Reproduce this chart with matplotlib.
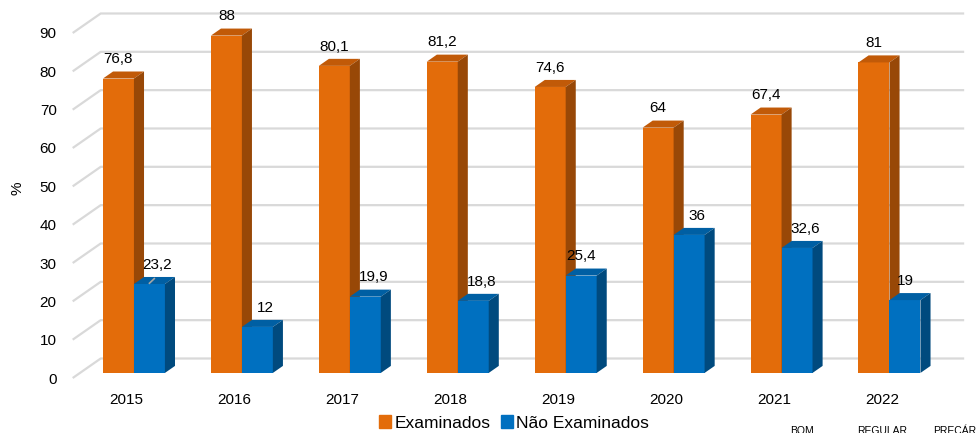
import matplotlib
matplotlib.use("Agg")
import matplotlib.pyplot as plt
from matplotlib.patches import Polygon, Patch

plt.rcParams['font.family'] = ['Liberation Sans', 'DejaVu Sans']

anos = ['2015', '2016', '2017', '2018', '2019', '2020', '2021', '2022']
examinados = [76.8, 88, 80.1, 81.2, 74.6, 64, 67.4, 81]
nao_examinados = [23.2, 12, 19.9, 18.8, 25.4, 36, 32.6, 19]
rotulos_ex = ['76,8', '88', '80,1', '81,2', '74,6', '64', '67,4', '81']
rotulos_nao = ['23,2', '12', '19,9', '18,8', '25,4', '36', '32,6', '19']

# colours: front, top, side
laranja = ('#E36C0A', '#C15A08', '#984807')
azul = ('#0070C0', '#005FA3', '#004A7E')
cor_grade = '#D9D9D9'

# oblique projection: one unit of depth moves this much in x / y
DX, DY = 0.2595, 5.09
D_FRENTE, D_BARRA = 0.26, 0.36
W = 0.287

fig = plt.figure(figsize=(9.77, 4.33), dpi=100)
ax = fig.add_axes([0.0744, 0.127, 0.8838, 0.7968])
ax.set_xlim(-0.5, 7.5)
ax.set_ylim(0, 90)
for s in ax.spines.values():
    s.set_visible(False)

# gridlines on the floor edge and back wall
for v in range(0, 100, 10):
    ax.plot([-0.5, -0.5 + DX, 7.5 + DX], [v, v + DY, v + DY],
            color=cor_grade, lw=1.6, clip_on=False, zorder=0,
            solid_capstyle='butt')

ox, oy = D_FRENTE * DX, D_FRENTE * DY
bx, by = D_BARRA * DX, D_BARRA * DY


def barra3d(x0, v, cores):
    ax.bar(x0 + W / 2, v, width=W, bottom=oy, color=cores[0],
           edgecolor='none', zorder=2, clip_on=False)
    x1 = x0 + W
    topo = oy + v
    ax.add_patch(Polygon([(x0, topo), (x1, topo), (x1 + bx, topo + by),
                          (x0 + bx, topo + by)], closed=True,
                         facecolor=cores[1], edgecolor='none', zorder=2,
                         clip_on=False))
    ax.add_patch(Polygon([(x1, oy), (x1 + bx, oy + by), (x1 + bx, topo + by),
                          (x1, topo)], closed=True, facecolor=cores[2],
                         edgecolor='none', zorder=2, clip_on=False))


for i in range(len(anos)):
    barra3d(i - W + ox, examinados[i], laranja)
    barra3d(i + ox, nao_examinados[i], azul)

for i in range(len(anos)):
    ax.text(i - W / 2 + ox, oy + examinados[i] + 5, rotulos_ex[i],
            ha='center', va='center', fontsize=11, zorder=5)
    dx_lbl = 0.0 if rotulos_nao[i] in ('25,4', '19') else 0.075
    ax.text(i + W / 2 + ox + dx_lbl, oy + nao_examinados[i] + 5, rotulos_nao[i],
            ha='center', va='center', fontsize=11, zorder=5)

# leader line for the 2015 label
ax.plot([ox + W / 2, ox + W / 2 + 0.045],
        [oy + nao_examinados[0] + 0.2, oy + nao_examinados[0] + 1.4],
        color='#A6A6A6', lw=1.2, zorder=5)

ax.set_xticks(range(len(anos)))
ax.set_xticklabels(anos, fontsize=11)
ax.set_yticks(range(0, 100, 10))
ax.tick_params(axis='both', length=0, labelsize=11)
ax.tick_params(axis='x', pad=11)
ax.tick_params(axis='y', pad=11.5)

fig.text(18 / 977, 1 - 188 / 433, '%', rotation=90, ha='center', va='center',
         fontsize=11)

fig.legend(handles=[Patch(color=laranja[0], label='Examinados'),
                    Patch(color=azul[0], label='Não Examinados')],
           loc='center', bbox_to_anchor=(514 / 977, 1 - 423 / 433), ncol=2,
           frameon=False, fontsize=12.5, handlelength=0.7, handleheight=0.7,
           handletextpad=0.2, columnspacing=0.6, borderaxespad=0)

# partial labels of a neighbouring chart at the bottom edge
for txt, xp, ha in [('BOM', 802, 'center'), ('REGULAR', 882, 'center'),
                    ('PRECÁRIO', 933, 'left')]:
    fig.text(xp / 977, 1 - 426 / 433, txt, ha=ha, va='top', fontsize=7.5)

fig.savefig('out.png', dpi=100)
